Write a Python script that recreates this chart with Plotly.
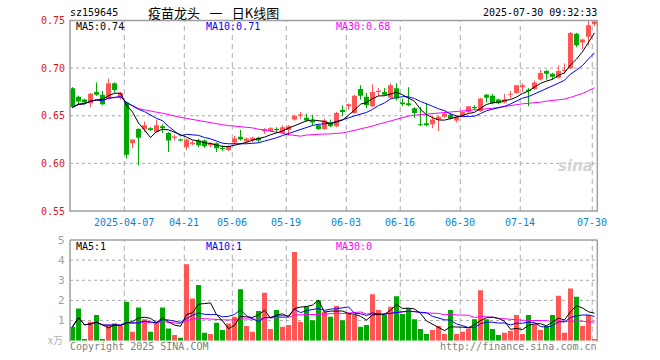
import plotly.graph_objects as go
import pandas as pd

# ---------------- data ----------------
dates = [
    "2025-03-24", "2025-03-25", "2025-03-26", "2025-03-27", "2025-03-28", "2025-03-31",
    "2025-04-01", "2025-04-02", "2025-04-03", "2025-04-07", "2025-04-08", "2025-04-09",
    "2025-04-10", "2025-04-11", "2025-04-14", "2025-04-15", "2025-04-16", "2025-04-17",
    "2025-04-18", "2025-04-21", "2025-04-22", "2025-04-23", "2025-04-24", "2025-04-25",
    "2025-04-28", "2025-04-29", "2025-04-30", "2025-05-06", "2025-05-07", "2025-05-08",
    "2025-05-09", "2025-05-12", "2025-05-13", "2025-05-14", "2025-05-15", "2025-05-16",
    "2025-05-19", "2025-05-20", "2025-05-21", "2025-05-22", "2025-05-23", "2025-05-26",
    "2025-05-27", "2025-05-28", "2025-05-29", "2025-05-30", "2025-06-03", "2025-06-04",
    "2025-06-05", "2025-06-06", "2025-06-09", "2025-06-10", "2025-06-11", "2025-06-12",
    "2025-06-13", "2025-06-16", "2025-06-17", "2025-06-18", "2025-06-19", "2025-06-20",
    "2025-06-23", "2025-06-24", "2025-06-25", "2025-06-26", "2025-06-27", "2025-06-30",
    "2025-07-01", "2025-07-02", "2025-07-03", "2025-07-04", "2025-07-07", "2025-07-08",
    "2025-07-09", "2025-07-10", "2025-07-11", "2025-07-14", "2025-07-15", "2025-07-16",
    "2025-07-17", "2025-07-18", "2025-07-21", "2025-07-22", "2025-07-23", "2025-07-24",
    "2025-07-25", "2025-07-28", "2025-07-29", "2025-07-30",
]

open_ = [
    0.679, 0.670, 0.667, 0.663, 0.675, 0.672, 0.668, 0.684, 0.669, 0.664,
    0.621, 0.636, 0.636, 0.637, 0.633, 0.639, 0.632, 0.627, 0.625, 0.617,
    0.620, 0.624, 0.624, 0.619, 0.621, 0.616, 0.614, 0.622, 0.628, 0.623,
    0.624, 0.627, 0.634, 0.634, 0.636, 0.632, 0.635, 0.646, 0.650, 0.648,
    0.645, 0.640, 0.636, 0.643, 0.639, 0.656, 0.660, 0.653, 0.678, 0.670,
    0.660, 0.675, 0.675, 0.669, 0.679, 0.664, 0.663, 0.658, 0.641, 0.642,
    0.641, 0.646, 0.649, 0.651, 0.645, 0.650, 0.654, 0.659, 0.655, 0.672,
    0.671, 0.667, 0.664, 0.672, 0.674, 0.680, 0.677, 0.678, 0.688, 0.697,
    0.694, 0.690, 0.697, 0.700, 0.736, 0.727, 0.733, 0.746,
]
high = [
    0.680, 0.671, 0.668, 0.674, 0.685, 0.676, 0.689, 0.685, 0.675, 0.665,
    0.625, 0.637, 0.644, 0.638, 0.646, 0.641, 0.633, 0.630, 0.626, 0.626,
    0.624, 0.626, 0.625, 0.622, 0.622, 0.619, 0.619, 0.629, 0.635, 0.627,
    0.628, 0.628, 0.637, 0.638, 0.638, 0.640, 0.640, 0.651, 0.654, 0.652,
    0.651, 0.641, 0.647, 0.646, 0.654, 0.661, 0.663, 0.672, 0.682, 0.674,
    0.683, 0.679, 0.679, 0.684, 0.684, 0.668, 0.680, 0.659, 0.659, 0.663,
    0.650, 0.650, 0.653, 0.653, 0.650, 0.655, 0.660, 0.661, 0.669, 0.673,
    0.673, 0.668, 0.673, 0.676, 0.682, 0.684, 0.679, 0.687, 0.698, 0.698,
    0.695, 0.703, 0.705, 0.738, 0.737, 0.731, 0.750, 0.750,
]
low = [
    0.658, 0.662, 0.662, 0.659, 0.671, 0.661, 0.667, 0.674, 0.667, 0.605,
    0.616, 0.598, 0.633, 0.634, 0.632, 0.632, 0.612, 0.624, 0.623, 0.614,
    0.619, 0.617, 0.616, 0.617, 0.612, 0.613, 0.613, 0.620, 0.624, 0.621,
    0.622, 0.622, 0.631, 0.633, 0.632, 0.631, 0.629, 0.645, 0.647, 0.644,
    0.640, 0.635, 0.635, 0.638, 0.638, 0.650, 0.656, 0.652, 0.667, 0.658,
    0.659, 0.671, 0.671, 0.668, 0.666, 0.660, 0.660, 0.648, 0.639, 0.639,
    0.637, 0.634, 0.648, 0.646, 0.643, 0.649, 0.653, 0.656, 0.654, 0.664,
    0.662, 0.662, 0.663, 0.668, 0.673, 0.675, 0.660, 0.677, 0.687, 0.688,
    0.688, 0.689, 0.694, 0.699, 0.722, 0.720, 0.724, 0.744,
]
close = [
    0.659, 0.665, 0.664, 0.673, 0.672, 0.662, 0.684, 0.677, 0.674, 0.609,
    0.625, 0.627, 0.640, 0.635, 0.640, 0.637, 0.624, 0.628, 0.624, 0.625,
    0.622, 0.619, 0.618, 0.621, 0.616, 0.615, 0.618, 0.626, 0.625, 0.626,
    0.627, 0.624, 0.636, 0.637, 0.635, 0.638, 0.639, 0.650, 0.651, 0.645,
    0.643, 0.636, 0.645, 0.639, 0.653, 0.654, 0.662, 0.671, 0.671, 0.661,
    0.675, 0.676, 0.672, 0.682, 0.668, 0.662, 0.661, 0.653, 0.640, 0.640,
    0.646, 0.649, 0.652, 0.647, 0.649, 0.654, 0.660, 0.658, 0.668, 0.669,
    0.663, 0.663, 0.667, 0.673, 0.682, 0.682, 0.676, 0.685, 0.695, 0.694,
    0.691, 0.697, 0.698, 0.737, 0.724, 0.730, 0.745, 0.749,
]
# volume in 万 (10k) units
volume = [
    0.69, 1.60, 0.08, 0.94, 1.27, 0.08, 0.78, 0.86, 0.73, 1.93,
    0.45, 1.65, 1.06, 0.45, 0.89, 1.65, 0.61, 0.28, 0.15, 3.80,
    2.10, 2.76, 0.40, 0.33, 0.89, 0.53, 0.86, 1.19, 2.56, 0.73,
    0.45, 1.47, 2.38, 0.58, 1.52, 0.69, 0.78, 4.41, 0.94, 1.68,
    1.02, 2.01, 1.44, 1.19, 1.72, 1.02, 1.36, 1.27, 0.69, 0.78,
    2.31, 1.52, 1.27, 1.68, 2.21, 1.32, 1.60, 1.07, 0.58, 0.33,
    0.53, 0.73, 0.33, 1.52, 0.33, 0.45, 0.61, 1.07, 2.51, 1.07,
    0.58, 0.28, 0.40, 0.50, 1.27, 0.33, 1.27, 0.83, 0.53, 0.73,
    1.27, 2.23, 0.40, 2.59, 2.18, 0.73, 1.27, 0.08,
]

tick_dates = ["2025-04-07", "2025-04-21", "2025-05-06", "2025-05-19", "2025-06-03",
              "2025-06-16", "2025-06-30", "2025-07-14", "2025-07-30"]
tick_labels = ["2025-04-07", "04-21", "05-06", "05-19", "06-03",
               "06-16", "06-30", "07-14", "07-30"]
price_ticks = [0.75, 0.70, 0.65, 0.60, 0.55]
price_tick_labels = ["0.75", "0.70", "0.65", "0.60", "0.55"]
vol_ticks = [5, 4, 3, 2, 1]
vol_tick_labels = ["5", "4", "3", "2", "1"]

symbol = "sz159645"
title_cn = "疫苗龙头\u2002 一\u2002 日K线图"
timestamp = "2025-07-30 09:32:33"
ma_main_labels = ["MA5:0.74", "MA10:0.71", "MA30:0.68"]
ma_vol_labels = ["MA5:1", "MA10:1", "MA30:0"]

# ---------------- styling / layout ----------------
W, H = 660, 360
RED = "#ff5555"
GREEN = "#00a800"
GRID = "#aaaaaa"
BORDER = "#a0a0a0"
MONO = "DejaVu Sans Mono"

X0, X1 = 70, 597.3
MAIN_T, MAIN_B = 20.5, 211.0
VOL_T, VOL_B = 240.0, 340.7


def fx(p):
    return p / W


def fy(p):
    return 1 - p / H


n = len(dates)
idx = list(range(n))
xr = [-0.42, n - 1 + 0.47]

s_close = pd.Series(close)
ma5 = s_close.rolling(5, min_periods=1).mean()
ma10 = s_close.rolling(10, min_periods=1).mean()
ma30 = s_close.rolling(30, min_periods=1).mean()
s_vol = pd.Series(volume)
vma5 = s_vol.rolling(5, min_periods=1).mean()
vma10 = s_vol.rolling(10, min_periods=1).mean()
vma30 = s_vol.rolling(30, min_periods=1).mean()

fig = go.Figure()

# wicks
for up, col in ((True, RED), (False, GREEN)):
    wx, wy = [], []
    for i in idx:
        if (close[i] >= open_[i]) == up:
            wx += [i, i, None]
            wy += [low[i], high[i], None]
    fig.add_trace(go.Scatter(x=wx, y=wy, mode="lines", line=dict(color=col, width=1),
                             hoverinfo="skip", showlegend=False, xaxis="x", yaxis="y"))

# bodies
for up, col in ((True, RED), (False, GREEN)):
    bx, bb, bh = [], [], []
    for i in idx:
        if (close[i] >= open_[i]) == up:
            bx.append(i)
            bb.append(min(open_[i], close[i]))
            bh.append(max(abs(close[i] - open_[i]), 0.0012))
    fig.add_trace(go.Bar(x=bx, y=bh, base=bb, width=0.83, marker=dict(color=col, line=dict(width=0)),
                         hoverinfo="skip", showlegend=False, xaxis="x", yaxis="y"))

# price MAs
for s, col in ((ma30, "#ff00ff"), (ma10, "#0000ff"), (ma5, "#000000")):
    fig.add_trace(go.Scatter(x=idx, y=list(s), mode="lines", line=dict(color=col, width=1),
                             hoverinfo="skip", showlegend=False, xaxis="x", yaxis="y"))

# volume bars
vcols = [RED if close[i] >= open_[i] else GREEN for i in idx]
fig.add_trace(go.Bar(x=idx, y=volume, width=0.83, marker=dict(color=vcols, line=dict(width=0)),
                     hoverinfo="skip", showlegend=False, xaxis="x2", yaxis="y2"))
for s, col in ((vma30, "#ff00ff"), (vma10, "#0000ff"), (vma5, "#000000")):
    fig.add_trace(go.Scatter(x=idx, y=list(s), mode="lines", line=dict(color=col, width=1),
                             hoverinfo="skip", showlegend=False, xaxis="x2", yaxis="y2"))

shapes = []
# vertical dashed grid lines (both panels)
tick_idx = [dates.index(d) for d in tick_dates]
for ti in tick_idx:
    for (t, b, xa) in ((MAIN_T, MAIN_B, "x"), (VOL_T, VOL_B, "x2")):
        shapes.append(dict(type="line", xref=xa, yref="paper", x0=ti - 0.37, x1=ti - 0.37,
                           y0=fy(b), y1=fy(t), line=dict(color=GRID, width=1, dash="5px,4px"),
                           layer="below"))
# horizontal dotted grid lines
for p in price_ticks[1:-1]:
    shapes.append(dict(type="line", xref="paper", yref="y", x0=fx(X0), x1=fx(X1), y0=p, y1=p,
                       line=dict(color=GRID, width=1, dash="dot"), layer="below"))
for v in vol_ticks[1:]:
    shapes.append(dict(type="line", xref="paper", yref="y2", x0=fx(X0), x1=fx(X1), y0=v, y1=v,
                       line=dict(color=GRID, width=1, dash="dot"), layer="below"))
# borders
shapes.append(dict(type="rect", xref="paper", yref="paper", x0=fx(X0), x1=fx(X1),
                   y0=fy(MAIN_B), y1=fy(MAIN_T), line=dict(color=BORDER, width=1.5)))
for (xa, ya, xb, yb) in ((X0, VOL_T, X1, VOL_T), (X0, VOL_T, X0, VOL_B + 1), (X1, VOL_T, X1, VOL_B + 1)):
    shapes.append(dict(type="line", xref="paper", yref="paper", x0=fx(xa), x1=fx(xb),
                       y0=fy(ya), y1=fy(yb), line=dict(color=BORDER, width=1.5)))

ann = []


def txt(text, x, y, xanchor="left", size=10, color="#000", family=MONO, xref="paper", yref="paper",
        yanchor="middle", **kw):
    ann.append(dict(text=text, x=x, y=y, xref=xref, yref=yref, xanchor=xanchor, yanchor=yanchor,
                    showarrow=False, font=dict(family=family, size=size, color=color), borderpad=0, **kw))


txt(symbol, fx(69), fy(13))
txt(title_cn, fx(213), fy(13), xanchor="center", size=13, family="Noto Sans CJK SC")
txt(timestamp, fx(598), fy(13), xanchor="right")

for p, lab in zip(price_ticks, price_tick_labels):
    txt(lab, fx(66), p, xanchor="right", yref="y", color="#e41414")
for v, lab in zip(vol_ticks, vol_tick_labels):
    txt(lab, fx(66), v, xanchor="right", yref="y2", color="#a0a0a0", size=11)
txt("x万", fx(64), fy(339), xanchor="right", color="#b0b0b0", size=10, family="Noto Sans CJK SC")

for ti, lab in zip(tick_idx, tick_labels):
    txt(lab, ti - 0.37, fy(222), xanchor="center", xref="x", color="#0a84d0")

for lab, xp, col in zip(ma_main_labels, (75, 204.5, 334.5), ("#000000", "#0000ff", "#ff00ff")):
    txt(lab, fx(xp), fy(26.5), color=col)
for lab, xp, col in zip(ma_vol_labels, (75, 204.5, 334.5), ("#000000", "#0000ff", "#ff00ff")):
    txt(lab, fx(xp), fy(246), color=col)

txt("Copyright 2025 SINA.COM", fx(69), fy(346.5), color="#808080")
txt("http://finance.sina.com.cn", fx(598), fy(346.5), xanchor="right", color="#808080")
txt("<b><i>sina</i></b>", fx(575), fy(166), xanchor="center", color="#d4d4d4", size=15,
    family="DejaVu Sans")

fig.update_layout(
    width=W, height=H, margin=dict(l=0, r=0, t=0, b=0),
    paper_bgcolor="white", plot_bgcolor="rgba(0,0,0,0)",
    barmode="overlay", showlegend=False, hovermode=False,
    xaxis=dict(domain=[fx(X0), fx(X1)], range=xr, visible=False, fixedrange=True),
    yaxis=dict(domain=[fy(MAIN_B), fy(MAIN_T)], range=[0.55, 0.75], visible=False, fixedrange=True),
    xaxis2=dict(domain=[fx(X0), fx(X1)], range=xr, visible=False, anchor="y2", fixedrange=True),
    yaxis2=dict(domain=[fy(VOL_B), fy(VOL_T)], range=[0, 5], visible=False, anchor="x2", fixedrange=True),
    shapes=shapes, annotations=ann,
)

fig.write_html("out.html", config={"displayModeBar": False, "staticPlot": True},
               post_script="document.body.style.margin='0';document.body.style.overflow='hidden';")
